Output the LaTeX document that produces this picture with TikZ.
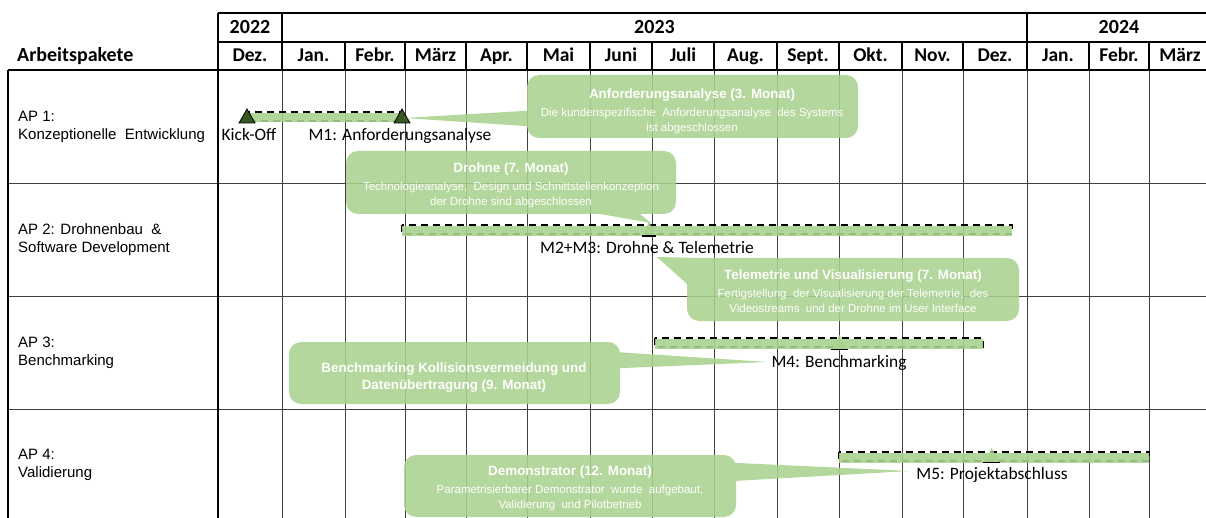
\documentclass[tikz,border=0pt]{standalone}
\usepackage{fontspec}
\setmainfont{Liberation Sans}
\newfontfamily\carlito{Carlito}
\definecolor{bargreen}{HTML}{A9D18E}
\definecolor{msgreen}{HTML}{385723}
\definecolor{gridgray}{HTML}{404040}
\newcommand{\ctitle}{\bfseries\fontsize{13.4}{17}\selectfont}
\tikzset{
 hdrline/.style={black, line width=1.4pt},
 gridline/.style={gridgray, line width=0.9pt},
 yearlbl/.style={font=\carlito\bfseries\fontsize{20}{24}\selectfont, inner sep=0, anchor=base},
 monthlbl/.style={font=\carlito\bfseries\fontsize{19.5}{24}\selectfont, inner sep=0, anchor=base},
 aplbl/.style={font=\fontsize{15}{18}\selectfont, align=left, anchor=west, inner sep=0},
 mslbl/.style={font=\carlito\fontsize{17.4}{20}\selectfont, inner sep=0, anchor=base},
 barbox/.style={draw=black, dash pattern=on 7pt off 5pt, line width=1.3pt},
 barband/.style={fill=bargreen, fill opacity=0.9},
 mstri/.style={fill=bargreen, fill opacity=0.85},
 msbase/.style={draw=black, line width=1.3pt},
 kotri/.style={fill=msgreen, draw=black, line width=0.8pt},
 callfill/.style={fill=bargreen, fill opacity=0.88},
 calltext/.style={text=white, align=center, inner sep=0, font=\fontsize{11.5}{15}\selectfont},
}
\begin{document}
\begin{tikzpicture}[x=1pt,y=-1pt]
\useasboundingbox (0,0) rectangle (1206,518);
% body grid
\foreach \xx in {282,345,405,466,527,590,652,714,777,839,902,963,1027,1089,1149,1211}
  \draw[gridline] (\xx,70) -- (\xx,518);
\foreach \yy in {183,296,409}
  \draw[gridline] (8,\yy) -- (1206,\yy);
\draw[hdrline] (8,70) -- (8,518);
\draw[hdrline] (218,13) -- (218,518);
% header lines
\draw[hdrline] (218,13) -- (1206,13);
\draw[hdrline] (218,42) -- (1206,42);
\draw[hdrline] (8,70) -- (1206,70);
\foreach \xx in {282,1027}
  \draw[hdrline] (\xx,13) -- (\xx,70);
\foreach \xx in {345,405,466,527,590,652,714,777,839,902,963,1089,1149}
  \draw[hdrline] (\xx,42) -- (\xx,70);
% header text
\node[font=\carlito\bfseries\fontsize{20}{24}\selectfont, anchor=base west, inner sep=0] (hdr) at (17,62) {Arbeitspakete};
\node[yearlbl] (y22) at (250,34) {2022};
\node[yearlbl] (y23) at (654.5,34) {2023};
\node[yearlbl] (y24) at (1119,34) {2024};
\foreach \a/\b/\m [count=\k] in {218/282/Dez.,282/345/Jan.,345/405/Febr.,405/466/März,466/527/Apr.,527/590/Mai,590/652/Juni,652/714/Juli,714/777/Aug.,777/839/Sept.,839/902/Okt.,902/963/Nov.,963/1027/Dez.,1027/1089/Jan.,1089/1149/Febr.,1149/1211/März}
  \node[monthlbl] (m\k) at ({(\a+\b)/2},62) {\m};
% row labels
\node[aplbl] (ap1) at (18,126.5) {AP 1:\\Konzeptionelle\ \ Entwicklung};
\node[aplbl] (ap2) at (18,240) {AP 2: Drohnenbau \ \&\\Software Development};
\node[aplbl] (ap3) at (18,352.5) {AP 3:\\Benchmarking};
\node[aplbl] (ap4) at (18,465) {AP 4:\\Validierung};
% bars: dashed outline with a green band over it
\draw[barbox] (246,112) rectangle (401,121);
\fill[barband] (246,113) rectangle (401,122.5);
\draw[barbox] (402,225) rectangle (1012,234);
\fill[barband] (402,226) rectangle (1012,236);
\draw[barbox] (655,338) rectangle (983,347);
\fill[barband] (655,339) rectangle (983,349);
\draw[barbox] (839,452) rectangle (1149,461);
\fill[barband] (839,453) rectangle (1149,462.5);
% milestones
\fill[mstri] (643,235) -- (649,221) -- (655,235) -- cycle;
\draw[msbase] (642,236) -- (656,236);
\fill[mstri] (832,349) -- (839.5,335) -- (847,349) -- cycle;
\draw[msbase] (831,349.5) -- (848,349.5);
\fill[mstri] (984,462) -- (991.5,448) -- (999,462) -- cycle;
\draw[msbase] (983,462.5) -- (1000,462.5);
\filldraw[kotri] (239,123) -- (247,109) -- (255,123) -- cycle;
\filldraw[kotri] (394,123) -- (402,109) -- (410,123) -- cycle;
% callouts
\fill[callfill] (404,118) -- (540,110) -- (540,127) -- cycle
  [rounded corners=12pt] (692,75) -- (858,75) -- (858,138) -- (527,138) -- (527,75) -- cycle;
\node[calltext] (c1) at (692,111) {{\ctitle Anforderungsanalyse (3. Monat)}\\[3pt]Die kundenspezifische\ \ Anforderungsanalyse\ \ des Systems\\ist abgeschlossen};
\fill[callfill] (651,223) -- (600,214) -- (600,205) -- (640,205) -- (640,214) -- cycle
  [rounded corners=12pt] (511,151) -- (676,151) -- (676,214) -- (346,214) -- (346,151) -- cycle;
\node[calltext] (c2) at (511,185) {{\ctitle Drohne (7. Monat)}\\[3pt]Technologieanalyse,\ \ Design und Schnittstellenkonzeption\\der Drohne sind abgeschlossen};
\fill[callfill] (657,257) -- (700,258) -- (700,284) -- (687,284) -- cycle
  [rounded corners=12pt] (853,258) -- (1019,258) -- (1019,321) -- (687,321) -- (687,258) -- cycle;
\node[calltext] (c3) at (853,291) {{\ctitle Telemetrie und Visualisierung (7. Monat)}\\[3pt]Fertigstellung\ \ der Visualisierung der Telemetrie,\ \ des\\Videostreams\ \ und der Drohne im User Interface};
\fill[callfill] (600,351) -- (768,362) -- (600,369) -- cycle
  [rounded corners=12pt] (454,342) -- (620,342) -- (620,404) -- (289,404) -- (289,342) -- cycle;
\node[calltext, font=\ctitle] (c4) at (454,377.5) {Benchmarking Kollisionsvermeidung und\\Datenübertragung (9. Monat)};
\fill[callfill] (716,462) -- (910,471) -- (716,482) -- cycle
  [rounded corners=12pt] (570,455) -- (736,455) -- (736,517) -- (404,517) -- (404,455) -- cycle;
\node[calltext] (c5) at (570,488) {{\ctitle Demonstrator (12. Monat)}\\[3pt]Parametrisierbarer Demonstrator\ \ wurde\ \ aufgebaut,\\Validierung\ \ und Pilotbetrieb};
% milestone labels
\node[mslbl] (ko) at (249,141) {Kick-Off};
\node[mslbl] (ms1) at (400,141) {M1: Anforderungsanalyse};
\node[mslbl] (ms2) at (647,254) {M2+M3: Drohne \& Telemetrie};
\node[mslbl] (ms4) at (839,367) {M4: Benchmarking};
\node[mslbl] (ms5) at (992,479) {M5: Projektabschluss};
\end{tikzpicture}
\end{document}
